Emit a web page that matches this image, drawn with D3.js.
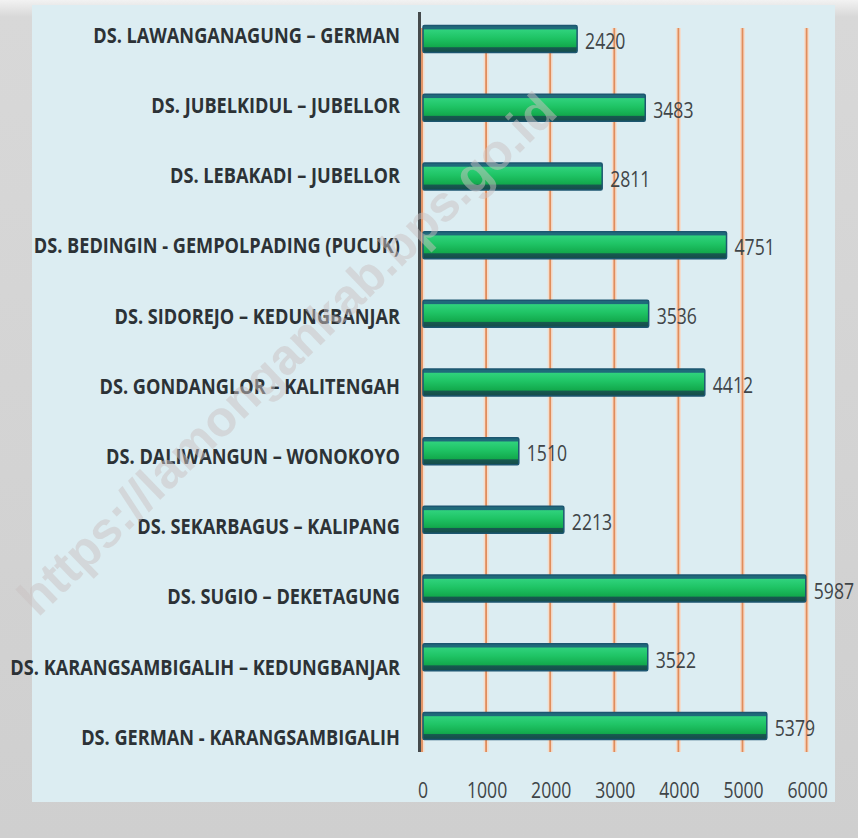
<!DOCTYPE html>
<html>
<head>
<meta charset="utf-8">
<script src="https://cdn.jsdelivr.net/npm/d3@7"></script>
<style>
  html, body { margin: 0; padding: 0; background: #d2d2d2; }
  svg { display: block; }
</style>
</head>
<body>
<svg id="chart" width="858" height="838"></svg>
<script>
// ---- data ----
const categories = [
  "DS. LAWANGANAGUNG \u2013 GERMAN",
  "DS. JUBELKIDUL \u2013 JUBELLOR",
  "DS. LEBAKADI \u2013 JUBELLOR",
  "DS. BEDINGIN - GEMPOLPADING (PUCUK)",
  "DS. SIDOREJO \u2013 KEDUNGBANJAR",
  "DS. GONDANGLOR \u2013 KALITENGAH",
  "DS. DALIWANGUN \u2013  WONOKOYO",
  "DS. SEKARBAGUS \u2013 KALIPANG",
  "DS. SUGIO \u2013 DEKETAGUNG",
  "DS. KARANGSAMBIGALIH \u2013 KEDUNGBANJAR",
  "DS. GERMAN - KARANGSAMBIGALIH"
];
const values = [2420, 3483, 2811, 4751, 3536, 4412, 1510, 2213, 5987, 3522, 5379];
const tickValues = [0, 1000, 2000, 3000, 4000, 5000, 6000];
const watermark = "https://lamongankab.bps.go.id";

// ---- setup ----
const svg = d3.select("#chart");
const W = 858, H = 838;
const defs = svg.append("defs");

const bg = defs.append("linearGradient").attr("id", "bgGrad")
  .attr("x1", 0).attr("y1", 0).attr("x2", 0).attr("y2", 1);
bg.append("stop").attr("offset", 0).attr("stop-color", "#f2f2f2");
bg.append("stop").attr("offset", 0.02).attr("stop-color", "#d8d8d8");
bg.append("stop").attr("offset", 1).attr("stop-color", "#cfcfcf");

const barGrad = defs.append("linearGradient").attr("id", "barGrad")
  .attr("x1", 0).attr("y1", 0).attr("x2", 0).attr("y2", 1);
[[0, "#1f6a7a"], [0.12, "#1f6a7a"], [0.16, "#2fd27c"], [0.45, "#1fc465"],
 [0.78, "#12a94c"], [0.82, "#17594f"], [1, "#154b4a"]]
  .forEach(([o, c]) => barGrad.append("stop").attr("offset", o).attr("stop-color", c));

svg.append("rect").attr("width", W).attr("height", H).attr("fill", "url(#bgGrad)");
svg.append("rect").attr("x", 32).attr("y", 5).attr("width", 803).attr("height", 797)
  .attr("fill", "#dcedf2");

// ---- scales ----
const x = d3.scaleLinear().domain([0, 6000]).range([422, 806.6]);
const y = d3.scaleBand().domain(categories).range([5, 760])
  .paddingInner(0.607).paddingOuter(0.3);
const yLabel = d3.scalePoint().domain(categories).range([34, 736]);

// ---- gridlines ----
const grid = svg.append("g");
grid.selectAll("line.halo").data(tickValues).join("line")
  .attr("class", "halo")
  .attr("x1", d => x(d)).attr("x2", d => x(d))
  .attr("y1", 28).attr("y2", 752)
  .attr("stroke", "#f4dccb").attr("stroke-width", 5);
grid.selectAll("line.g").data(tickValues).join("line")
  .attr("class", "g")
  .attr("x1", d => x(d)).attr("x2", d => x(d))
  .attr("y1", 28).attr("y2", 752)
  .attr("stroke", "#e08d5c").attr("stroke-width", 1.8);

// ---- axis line ----
svg.append("line").attr("x1", 419.5).attr("x2", 419.5).attr("y1", 12).attr("y2", 752)
  .attr("stroke", "#454a4c").attr("stroke-width", 3);

// ---- bars ----
const bars = svg.append("g");
bars.selectAll("rect").data(values).join("rect")
  .attr("x", x(0) + 1)
  .attr("y", (d, i) => y(categories[i]))
  .attr("width", d => x(d) - x(0) - 1)
  .attr("height", y.bandwidth())
  .attr("rx", 1.5)
  .attr("fill", "url(#barGrad)")
  .attr("stroke", "#1c5670").attr("stroke-width", 1.5);

// ---- value labels ----
svg.append("g").selectAll("text").data(values).join("text")
  .attr("transform", (d, i) => `translate(${x(d) + 8},${y(categories[i]) + y.bandwidth() / 2 + 2}) scale(0.8,1)`)
  .attr("dominant-baseline", "central")
  .attr("font-family", "'Open Sans', sans-serif")
  .attr("font-size", 22)
  .attr("fill", "#404548")
  .text(d => d);

// ---- tick labels ----
svg.append("g").selectAll("text").data(tickValues).join("text")
  .attr("transform", d => `translate(${x(d) + 1},${790}) scale(0.8,1)`)
  .attr("text-anchor", "middle")
  .attr("dominant-baseline", "central")
  .attr("font-family", "'Open Sans', sans-serif")
  .attr("font-size", 22)
  .attr("fill", "#404548")
  .text(d => d);

// ---- category labels ----
const lab = svg.append("g").selectAll("text").data(categories).join("text")
  .attr("text-anchor", "end")
  .attr("dominant-baseline", "central")
  .attr("font-family", "'Open Sans', sans-serif")
  .attr("font-weight", 700)
  .attr("font-size", 22)
  .attr("fill", "#2c3236")
  .text(d => d);
let maxW = 0;
lab.each(function () { maxW = Math.max(maxW, this.getComputedTextLength()); });
const k = 390 / maxW;
lab.attr("transform", d => `translate(400,${yLabel(d)}) scale(${k},1)`);

// ---- watermark ----
svg.append("text")
  .attr("transform", "translate(38,618) rotate(-44)")
  .attr("font-family", "'Liberation Sans', Arial, sans-serif")
  .attr("font-weight", 700)
  .attr("font-size", 50)
  .attr("fill", "#c9c2c2")
  .attr("fill-opacity", 0.5)
  .text(watermark);
</script>
</body>
</html>
